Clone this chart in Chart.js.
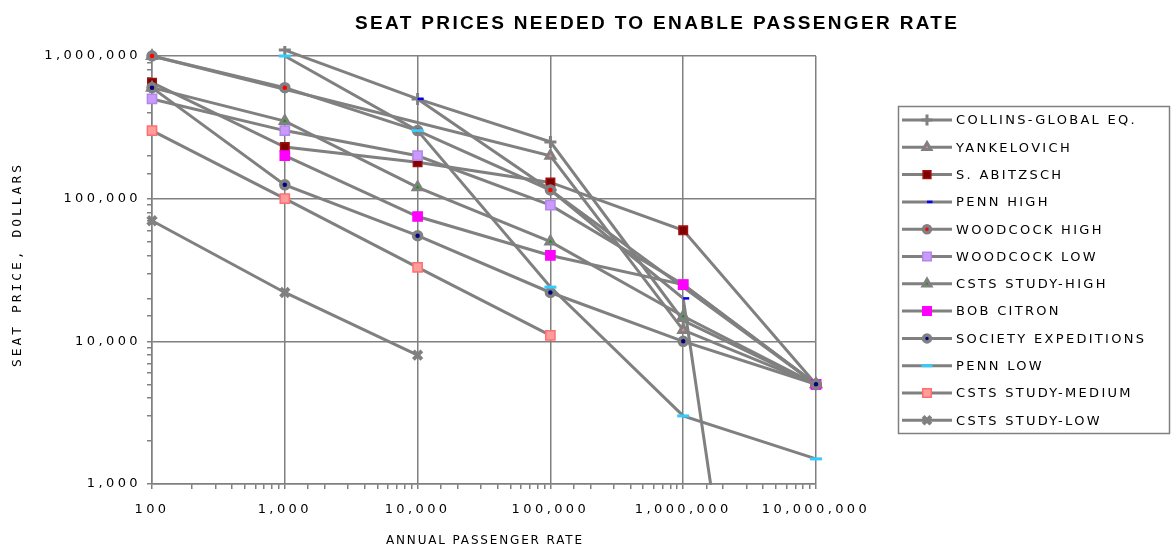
<!DOCTYPE html>
<html>
<head>
<meta charset="utf-8">
<script src="https://cdn.jsdelivr.net/npm/chart.js@4/dist/chart.umd.min.js"></script>
<style>
  html, body { margin: 0; padding: 0; background: #ffffff; }
  #wrap { width: 1174px; height: 554px; position: relative; }
</style>
</head>
<body>
<div id="wrap"><canvas id="chart" width="1174" height="554"></canvas></div>
<script>
// Annual passenger rates (x axis, log scale)
const passengerRates = [100, 1000, 10000, 100000, 1000000, 10000000];

// Seat price estimates, dollars (null = no estimate at that rate)
const collinsGlobalEq   = [null, 1100000, 500000, 250000, 14000, 5000];
const yankelovich       = [1000000, null, null, 200000, 12000, 5000];
const sAbitzsch         = [650000, 230000, 180000, 130000, 60000, 5000];
const pennHigh          = [null, null, 500000, 115000, 20000, 0.01];
const woodcockHigh      = [1000000, 600000, 300000, 115000, null, 5000];
const woodcockLow       = [500000, 300000, 200000, 90000, 25000, 5000];
const cstsStudyHigh     = [600000, 350000, 120000, 50000, 15000, 5000];
const bobCitron         = [null, 200000, 75000, 40000, 25000, 5000];
const societyExpeditions= [600000, 125000, 55000, 22000, 10000, 5000];
const pennLow           = [null, 1000000, 300000, 24000, 3000, 1500];
const cstsStudyMedium   = [300000, 100000, 33000, 11000, null, null];
const cstsStudyLow      = [70000, 22000, 8000, null, null, null];

const seriesNames = [
  'COLLINS-GLOBAL EQ.', 'YANKELOVICH', 'S. ABITZSCH', 'PENN HIGH',
  'WOODCOCK HIGH', 'WOODCOCK LOW', 'CSTS STUDY-HIGH', 'BOB CITRON',
  'SOCIETY EXPEDITIONS', 'PENN LOW', 'CSTS STUDY-MEDIUM', 'CSTS STUDY-LOW'
];
const seriesValues = [
  collinsGlobalEq, yankelovich, sAbitzsch, pennHigh, woodcockHigh, woodcockLow,
  cstsStudyHigh, bobCitron, societyExpeditions, pennLow, cstsStudyMedium, cstsStudyLow
];

const yTickLabels = ['1,000', '10,000', '100,000', '1,000,000'];
const xTickLabels = ['100', '1,000', '10,000', '100,000', '1,000,000', '10,000,000'];

// Marker styling for each series
const GRAY = '#808080';
const markers = [
  { pointStyle: 'cross',    radius: 6,   fill: GRAY,      stroke: GRAY,      width: 3 },
  { pointStyle: 'triangle', radius: 5,   fill: '#ff8080', stroke: GRAY,      width: 3 },
  { pointStyle: 'rect',     radius: 6,   fill: '#800000', stroke: '#a01010', width: 1.5 },
  { pointStyle: 'dash',     radius: 6,   fill: '#0000ff', stroke: '#0000ff', width: 2.5 },
  { pointStyle: 'circle',   radius: 4,   fill: '#ff0000', stroke: GRAY,      width: 3.5 },
  { pointStyle: 'rect',     radius: 6.5, fill: '#cc99ff', stroke: '#b088e8', width: 1.5 },
  { pointStyle: 'triangle', radius: 5,   fill: '#00a000', stroke: GRAY,      width: 3 },
  { pointStyle: 'rect',     radius: 6.5, fill: '#ff00ff', stroke: '#ff00ff', width: 1.5 },
  { pointStyle: 'circle',   radius: 4,   fill: '#000080', stroke: GRAY,      width: 3.5 },
  { pointStyle: 'line',     radius: 6,   fill: '#33ccff', stroke: '#33ccff', width: 3 },
  { pointStyle: 'rect',     radius: 6.5, fill: '#ff9c9c', stroke: '#ff6f6f', width: 1.5 },
  { pointStyle: 'crossRot', radius: 6,   fill: GRAY,      stroke: GRAY,      width: 4 }
];

const datasets = seriesValues.map((vals, i) => {
  const pts = [];
  vals.forEach((v, j) => { if (v !== null) pts.push({ x: passengerRates[j], y: v }); });
  const m = markers[i];
  return {
    label: seriesNames[i],
    data: pts,
    order: seriesValues.length - i,   // later series are drawn on top
    borderColor: GRAY,
    borderWidth: 3,
    pointStyle: m.pointStyle,
    pointRadius: m.radius,
    pointBackgroundColor: m.fill,
    pointBorderColor: m.stroke,
    pointBorderWidth: m.width,
    pointHoverRadius: m.radius,
    tension: 0,
    clip: { left: 10, top: 10, right: 10, bottom: 1 }
  };
});

const isDecade = v => Math.abs(Math.log10(v) - Math.round(Math.log10(v))) < 1e-9;

// Draws text spread out to a given width
function spacedText(ctx, text, x, y, width, align) {
  ctx.save();
  ctx.letterSpacing = '0px';
  const w0 = ctx.measureText(text).width;
  const sp = Math.max(0, (width - w0) / Math.max(1, text.length - 1));
  ctx.letterSpacing = sp + 'px';
  let sx = x;
  if (align === 'center') sx = x - (w0 + sp * (text.length - 1)) / 2;
  else if (align === 'right') sx = x - (w0 + sp * (text.length - 1));
  ctx.textAlign = 'left';
  ctx.fillText(text, sx, y);
  ctx.restore();
}

const decorations = {
  id: 'decorations',
  beforeDraw(chart) {
    chart.ctx.letterSpacing = '3.4px';
  },
  afterDraw(chart) {
    const ctx = chart.ctx;
    ctx.save();
    ctx.fillStyle = '#000';
    ctx.textBaseline = 'middle';

    // Title
    ctx.font = 'bold 19px "Liberation Sans"';
    spacedText(ctx, 'SEAT PRICES NEEDED TO ENABLE PASSENGER RATE', 656, 24, 602, 'center');

    // Axis titles
    ctx.font = '12px "DejaVu Sans"';
    spacedText(ctx, 'ANNUAL PASSENGER RATE', 484, 541, 196, 'center');
    ctx.save();
    ctx.translate(18, 266);
    ctx.rotate(-Math.PI / 2);
    ctx.font = '13px "DejaVu Sans Mono"';
    spacedText(ctx, 'SEAT PRICE, DOLLARS', 0, 0, 202, 'center');
    ctx.restore();

    // Legend box
    ctx.strokeStyle = GRAY;
    ctx.lineWidth = 1.5;
    ctx.strokeRect(898.5, 106.5, 271, 327);
    chart.data.datasets.forEach((ds, i) => {
      const y = 120 + i * 27.3;
      ctx.strokeStyle = GRAY;
      ctx.lineWidth = 3;
      ctx.beginPath();
      ctx.moveTo(902, y);
      ctx.lineTo(952, y);
      ctx.stroke();
      const m = markers[i];
      ctx.fillStyle = m.fill;
      ctx.strokeStyle = m.stroke;
      ctx.lineWidth = m.width;
      Chart.helpers.drawPoint(ctx, { pointStyle: m.pointStyle, radius: m.radius - 0.5, rotation: 0, borderWidth: m.width }, 927, y);
      ctx.fillStyle = '#000';
      ctx.font = '13px "DejaVu Sans"';
      ctx.letterSpacing = '2.3px';
      ctx.textAlign = 'left';
      ctx.fillText(ds.label, 956, y + 1);
    });
    ctx.restore();
  }
};

const gridColor = c => (c.tick && isDecade(c.tick.value)) ? GRAY : 'rgba(0,0,0,0)';

new Chart(document.getElementById('chart'), {
  type: 'line',
  data: { datasets },
  options: {
    responsive: false,
    animation: false,
    events: [],
    layout: { padding: { top: 56, right: 358, left: 0, bottom: 0 } },
    plugins: { legend: { display: false }, title: { display: false }, tooltip: { enabled: false } },
    scales: {
      x: {
        type: 'logarithmic',
        min: 100, max: 10000000,
        afterFit: s => { s.height = 70; },
        border: { display: true, color: GRAY, width: 1.5 },
        grid: { color: gridColor, lineWidth: 1.5, tickColor: GRAY, tickLength: 5 },
        ticks: {
          autoSkip: false, maxRotation: 0, padding: 13,
          color: '#000', font: { family: 'DejaVu Sans', size: 13 },
          callback: v => isDecade(v) ? xTickLabels[Math.round(Math.log10(v)) - 2] : ''
        }
      },
      y: {
        type: 'logarithmic',
        min: 1000, max: 1000000,
        afterFit: s => { s.width = 152; },
        border: { display: true, color: GRAY, width: 1.5 },
        grid: { color: gridColor, lineWidth: 1.5, tickColor: GRAY, tickLength: 5 },
        ticks: {
          autoSkip: false, padding: 6,
          color: '#000', font: { family: 'DejaVu Sans', size: 13 },
          callback: v => isDecade(v) ? yTickLabels[Math.round(Math.log10(v)) - 3] : ''
        }
      }
    }
  },
  plugins: [decorations]
});
</script>
</body>
</html>
